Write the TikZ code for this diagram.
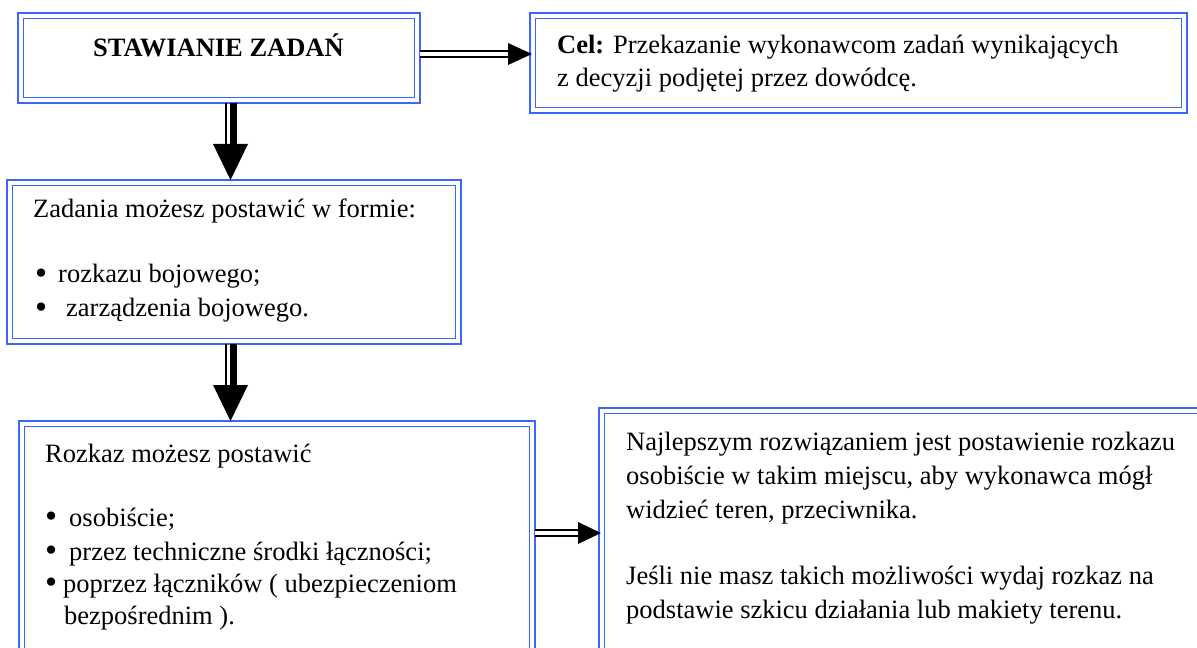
\documentclass[tikz,border=0pt]{standalone}
\usepackage{fontspec}
\setmainfont{Liberation Serif}
\usetikzlibrary{calc}
\definecolor{boxblue}{RGB}{60,100,255}
\newcommand{\bul}{\raisebox{-0.06em}{\scalebox{1.3}{•}}}
\begin{document}
\begin{tikzpicture}[x=1bp,y=-1bp,
  frame/.style={draw=boxblue,line width=2.6bp,inner sep=0pt,outer sep=0pt,anchor=north west},
  innerframe/.style={draw=boxblue,line width=1.7bp},
  txt/.style={anchor=base west,inner sep=0pt,font=\fontsize{26.5bp}{33bp}\selectfont},
  title/.style={anchor=base,inner sep=0pt,font=\fontsize{26.5bp}{33bp}\selectfont\bfseries},
  hshaft/.style={draw=black,double=white,double distance=3.2bp,line width=2.5bp},
  thinshaft/.style={draw=black,line width=2bp},
  thickshaft/.style={draw=black,line width=7bp},
  head/.style={fill=black}]
\useasboundingbox (0,0) rectangle (1197,648);

% boxes
\node[frame,minimum width=402bp,minimum height=90bp]  (b1) at (18,13) {};
\node[frame,minimum width=657bp,minimum height=100bp] (b2) at (530,13) {};
\node[frame,minimum width=454bp,minimum height=164bp] (b3) at (7,180) {};
\node[frame,minimum width=516bp,minimum height=250bp] (b4) at (19,421) {};
\node[frame,minimum width=650bp,minimum height=260bp] (b5) at (599,408) {};
\foreach \n in {b1,b2,b3,b4,b5}
  \draw[innerframe] ([shift={(5.5,5.5)}]\n.north west) rectangle ([shift={(-5.5,-5.5)}]\n.south east);

% texts
\node[title] (t1) at (218.5,57) {STAWIANIE ZADAŃ};

\node[txt] (t2a) at (557,54) {\textbf{Cel:} Przekazanie wykonawcom zadań wynikających};
\node[txt] (t2b) at (557,87) {z decyzji podjętej przez dowódcę.};

\node[txt] (t3a) at (33,218) {Zadania możesz postawić w formie:};
\node[txt] (t3b) at (35,283) {\makebox[23bp][l]{\bul}rozkazu bojowego;};
\node[txt] (t3c) at (35,317) {\makebox[31bp][l]{\bul}zarządzenia bojowego.};

\node[txt] (t4a) at (45,462) {Rozkaz możesz postawić};
\node[txt] (t4b) at (45,526) {\makebox[24bp][l]{\bul}osobiście;};
\node[txt] (t4c) at (45,560) {\makebox[24bp][l]{\bul}przez techniczne środki łączności;};
\node[txt] (t4d) at (45,592) {\makebox[18bp][l]{\bul}poprzez łączników ( ubezpieczeniom};
\node[txt] (t4e) at (64,624) {bezpośrednim ).};

\node[txt] (t5a) at (626,450) {Najlepszym rozwiązaniem jest postawienie rozkazu};
\node[txt] (t5b) at (626,484) {osobiście w takim miejscu, aby wykonawca mógł};
\node[txt] (t5c) at (626,518) {widzieć teren, przeciwnika.};
\node[txt] (t5d) at (626,584) {Jeśli nie masz takich możliwości wydaj rozkaz na};
\node[txt] (t5e) at (626,618) {podstawie szkicu działania lub makiety terenu.};

% arrow 1: b1 -> b2
\coordinate (a1s) at ([shift={(0,-4)}]b1.east);
\coordinate (a1e) at ([shift={(2,0)}]a1s -| b2.west);
\draw[hshaft] (a1s) -- ([shift={(-23,0)}]a1e);
\fill[head] (a1e) -- ++(-24,-11) -- ++(0,22) -- cycle;

% arrow 2: b1 -> b3
\coordinate (d1s) at ([shift={(11.5,0)}]b1.south);
\coordinate (d1e) at (d1s |- b3.north);
\draw[thinshaft]  ([shift={(-4.5,0)}]d1s) -- ([shift={(-4.5,-35)}]d1e);
\draw[thickshaft] ([shift={(3,0)}]d1s) -- ([shift={(3,-35)}]d1e);
\fill[head] (d1e) -- ++(-17.5,-36) -- ++(35,0) -- cycle;

% arrow 3: b3 -> b4
\coordinate (d2s) at ([shift={(-3.5,0)}]b3.south);
\coordinate (d2e) at (d2s |- b4.north);
\draw[thinshaft]  ([shift={(-4.5,0)}]d2s) -- ([shift={(-4.5,-35)}]d2e);
\draw[thickshaft] ([shift={(3,0)}]d2s) -- ([shift={(3,-35)}]d2e);
\fill[head] (d2e) -- ++(-17.5,-36) -- ++(35,0) -- cycle;

% arrow 4: b4 -> b5
\coordinate (a3s) at ([shift={(0,-13)}]b4.east);
\coordinate (a3e) at ([shift={(2,0)}]a3s -| b5.west);
\draw[hshaft] (a3s) -- ([shift={(-22,0)}]a3e);
\fill[head] (a3e) -- ++(-23,-11) -- ++(0,22) -- cycle;
\end{tikzpicture}
\end{document}
